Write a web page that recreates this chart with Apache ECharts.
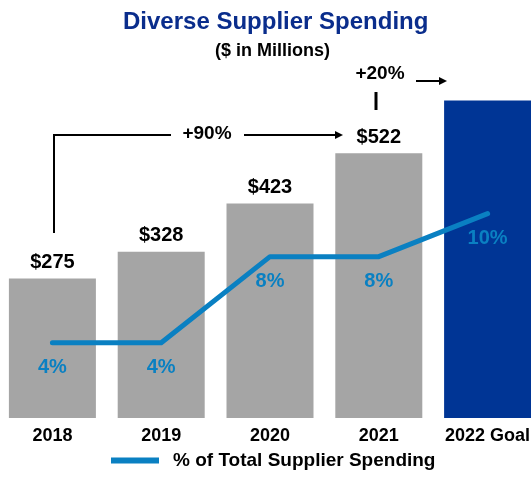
<!DOCTYPE html>
<html>
<head>
<meta charset="utf-8">
<script src="https://cdn.jsdelivr.net/npm/echarts@6/dist/echarts.min.js"></script>
<style>
  html, body { margin: 0; padding: 0; background: #fff; }
  #chart { width: 531px; height: 499px; }
</style>
</head>
<body>
<div id="chart"></div>
<script>
// Spending per year ($ millions) and share of total supplier spend (%)
const categories = ['2018', '2019', '2020', '2021', '2022 Goal'];
const spending = [275, 328, 423, 522, 626];
const sharePct = [4, 4, 8, 8, 10];
const goalLabel = '2022 Goal';

const FONT = '"Liberation Sans", Arial, sans-serif';
const GRAY = '#a5a5a5';
const NAVY = '#003595';
const BLUE = '#0a80c2';

const chart = echarts.init(document.getElementById('chart'));

// Arrow helper for the growth annotations
function arrow(x1, x2, y) {
  return [
    { type: 'line', shape: { x1: x1, y1: y, x2: x2 - 7, y2: y }, style: { stroke: '#000', lineWidth: 2 } },
    { type: 'polygon', shape: { points: [[x2 - 8, y - 4], [x2, y], [x2 - 8, y + 4]] }, style: { fill: '#000' } }
  ];
}

chart.setOption({
  animation: false,
  title: [
    { text: 'Diverse Supplier Spending', left: 118, top: 5,
      textStyle: { fontFamily: FONT, fontSize: 24, fontWeight: 'bold', color: '#0a2d8c' } },
    { text: '($ in Millions)', left: 210, top: 37,
      textStyle: { fontFamily: FONT, fontSize: 18, fontWeight: 'bold', color: '#000' } }
  ],
  legend: {
    bottom: 24, left: 106,
    icon: 'rect', itemWidth: 48, itemHeight: 6,
    textStyle: { fontFamily: FONT, fontSize: 19, fontWeight: 'bold', color: '#000', padding: [0, 0, 0, 9] },
    data: ['% of Total Supplier Spending']
  },
  grid: { left: -2, right: -11, top: 63, bottom: 81, containLabel: false, outerBoundsMode: 'none' },
  xAxis: {
    type: 'category', data: categories,
    axisLine: { show: false }, axisTick: { show: false },
    axisLabel: { interval: 0, margin: 9, fontFamily: FONT, fontSize: 18, fontWeight: 'bold', color: '#000' }
  },
  yAxis: [
    { type: 'value', min: 0, max: 700, show: false, splitLine: { show: false } },
    { type: 'value', min: 0.5, max: 17, show: false, splitLine: { show: false } }
  ],
  series: [
    {
      type: 'bar', name: 'Spending', data: spending, barWidth: 87,
      itemStyle: { color: p => categories[p.dataIndex] === goalLabel ? NAVY : GRAY },
      label: {
        show: true, position: 'top', distance: 6,
        fontFamily: FONT, fontSize: 20, fontWeight: 'bold', color: '#000',
        formatter: p => categories[p.dataIndex] === goalLabel ? '' : '$' + p.value
      }
    },
    {
      type: 'line', name: '% of Total Supplier Spending', yAxisIndex: 1, data: sharePct,
      symbol: 'circle', symbolSize: 1, itemStyle: { color: BLUE },
      lineStyle: { color: BLUE, width: 5, cap: 'round', join: 'round' },
      label: {
        show: true, position: 'bottom', distance: 14,
        fontFamily: FONT, fontSize: 20, fontWeight: 'bold', color: BLUE,
        formatter: p => p.value + '%'
      }
    }
  ],
  graphic: [
    // bracket from 2018 to 2021 with +90% growth
    { type: 'polyline', shape: { points: [[54, 233], [54, 135], [171, 135]] },
      style: { stroke: '#000', lineWidth: 2, fill: null } },
    { type: 'text', x: 207, y: 134, style: { text: '+90%', fontFamily: FONT, fontSize: 19, fontWeight: 'bold',
      fill: '#000', textAlign: 'center', textVerticalAlign: 'middle' } },
    ...arrow(244, 343, 135),
    // 2021 to 2022 goal: +20%
    { type: 'line', shape: { x1: 376, y1: 92, x2: 376, y2: 110 }, style: { stroke: '#000', lineWidth: 3 } },
    { type: 'text', x: 380, y: 74, style: { text: '+20%', fontFamily: FONT, fontSize: 19, fontWeight: 'bold',
      fill: '#000', textAlign: 'center', textVerticalAlign: 'middle' } },
    ...arrow(416, 447, 81)
  ]
});
</script>
</body>
</html>
